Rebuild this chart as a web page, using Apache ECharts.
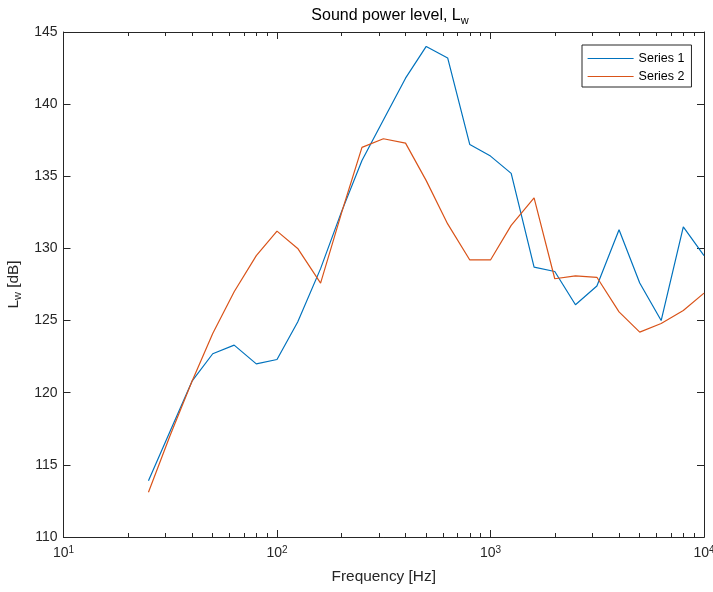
<!DOCTYPE html>
<html>
<head>
<meta charset="utf-8">
<script src="https://cdn.jsdelivr.net/npm/echarts@6/dist/echarts.min.js"></script>
<style>html,body{margin:0;padding:0;background:#fff;overflow:hidden}#c{width:713px;height:592px}</style>
</head>
<body>
<div id="c"></div>
<script>
const freqs = [25, 31.5, 40, 50, 63, 80, 100, 125, 160, 200, 250, 315, 400, 500, 630, 800, 1000, 1250, 1600, 2000, 2500, 3150, 4000, 5000, 6300, 8000, 10000];
const series1 = [113.9, 117.3, 120.8, 122.7, 123.3, 122.0, 122.3, 124.9, 128.6, 132.5, 136.1, 138.9, 141.8, 144.0, 143.2, 137.2, 136.4, 135.2, 128.7, 128.4, 126.1, 127.4, 131.3, 127.6, 125.0, 131.5, 129.5];
const series2 = [113.1, 117.0, 120.8, 124.1, 127.0, 129.5, 131.2, 130.0, 127.6, 132.4, 137.0, 137.6, 137.3, 134.7, 131.7, 129.2, 129.2, 131.6, 133.5, 127.9, 128.1, 128.0, 125.6, 124.2, 124.8, 125.7, 126.9];
const seriesNames = ['Series 1', 'Series 2'];
const minorTickValues = [20, 30, 40, 50, 60, 70, 80, 90, 200, 300, 400, 500, 600, 700, 800, 900, 2000, 3000, 4000, 5000, 6000, 7000, 8000, 9000];
const yTicks = [110, 115, 120, 125, 130, 135, 140, 145];

const axisColor = '#262626';
const font = 'Liberation Sans, Arial, Helvetica, sans-serif';

const chart = echarts.init(document.getElementById('c'), null, {renderer: 'canvas'});

function xAxisBase(pos, showLabel, minor) {
  return {
    type: 'log', logBase: 10, min: 10, max: 10000, position: pos, gridIndex: 0,
    offset: 0,
    name: (showLabel && !minor) ? 'Frequency [Hz]' : '',
    nameLocation: 'middle', nameGap: 32,
    nameTextStyle: {color: axisColor, fontSize: 15.4, fontFamily: font},
    axisLine: {show: true, onZero: false, lineStyle: {color: axisColor, width: 1}},
    axisTick: minor ? {show: true, inside: true, length: 4, customValues: minorTickValues, lineStyle: {color: axisColor}}
                    : {show: true, inside: true, length: 7, lineStyle: {color: axisColor}},
    axisLabel: {
      show: showLabel && !minor,
      margin: 8,
      formatter: function (v) { return '{b|10}{s|' + Math.round(Math.log10(v)) + '}'; },
      rich: {
        b: {fontSize: 14, color: axisColor, fontFamily: font},
        s: {fontSize: 10, color: axisColor, fontFamily: font, verticalAlign: 'top', padding: [0, 0, 7, 0]}
      }
    },
    splitLine: {show: false},
    minorTick: {show: false}
  };
}

const option = {
  animation: false,
  backgroundColor: '#fff',
  title: {
    text: '{a|Sound power level, L}{s|w}',
    left: 385, top: 1, textAlign: 'center',
    textStyle: {
      fontWeight: 'normal',
      rich: {
        a: {fontSize: 16, color: '#000', fontFamily: font, fontWeight: 'normal'},
        s: {fontSize: 11, color: '#000', fontFamily: font, fontWeight: 'normal', verticalAlign: 'bottom', padding: [9, 0, 0, 0]}
      }
    }
  },
  legend: {
    orient: 'vertical', left: 582, top: 45,
    padding: [7, 7, 4, 5], itemGap: 5, itemWidth: 46, itemHeight: 13,
    borderColor: axisColor, borderWidth: 1, backgroundColor: '#fff',
    itemStyle: {opacity: 0},
    lineStyle: {width: 1.2},
    textStyle: {fontSize: 12.5, color: '#000', fontFamily: font},
    data: seriesNames
  },
  grid: {left: 63.5, right: 9, top: 32, bottom: 55, containLabel: false, outerBoundsMode: 'none'},
  xAxis: [
    xAxisBase('bottom', true, false),
    xAxisBase('bottom', false, true),
    xAxisBase('top', false, false),
    xAxisBase('top', false, true)
  ],
  yAxis: [
    {
      type: 'value', min: 110, max: 145, interval: 5, position: 'left',
      name: '{a|L}{s|w}{a| [dB]}', nameLocation: 'middle', nameGap: 33,
      nameTextStyle: {
        rich: {
          a: {fontSize: 15.4, color: axisColor, fontFamily: font},
          s: {fontSize: 11, color: axisColor, fontFamily: font, verticalAlign: 'bottom', padding: [8, 0, 0, 0]}
        }
      },
      axisLine: {show: true, lineStyle: {color: axisColor, width: 1}},
      axisTick: {show: true, inside: true, length: 7, lineStyle: {color: axisColor}},
      axisLabel: {show: true, margin: 6, fontSize: 14, color: axisColor, fontFamily: font,
        formatter: function (v) { return yTicks.indexOf(v) >= 0 ? String(v) : ''; }},
      splitLine: {show: false}
    },
    {
      type: 'value', min: 110, max: 145, interval: 5, position: 'right',
      axisLine: {show: true, lineStyle: {color: axisColor, width: 1}},
      axisTick: {show: true, inside: true, length: 7, lineStyle: {color: axisColor}},
      axisLabel: {show: false},
      splitLine: {show: false}
    }
  ],
  series: [
    {
      name: seriesNames[0], type: 'line', xAxisIndex: 0, yAxisIndex: 0,
      data: freqs.map((f, i) => [f, series1[i]]),
      symbol: 'none', lineStyle: {color: '#0072BD', width: 1.2}, itemStyle: {color: '#0072BD'}
    },
    {
      name: seriesNames[1], type: 'line', xAxisIndex: 0, yAxisIndex: 0,
      data: freqs.map((f, i) => [f, series2[i]]),
      symbol: 'none', lineStyle: {color: '#D95319', width: 1.2}, itemStyle: {color: '#D95319'}
    }
  ]
};
chart.setOption(option);
</script>
</body>
</html>
